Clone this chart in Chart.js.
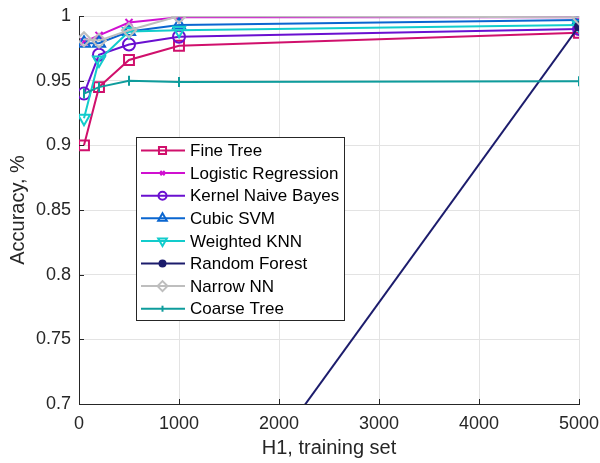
<!DOCTYPE html>
<html>
<head>
<meta charset="utf-8">
<script src="https://cdn.jsdelivr.net/npm/chart.js@4.4.1/dist/chart.umd.min.js"></script>
<style>
  html, body { margin: 0; padding: 0; background: #fff; }
  #wrap { width: 600px; height: 463px; }
</style>
</head>
<body>
<div id="wrap"><canvas id="accChart" width="600" height="463"></canvas></div>
<script>
// training set sizes (x)
const trainSizes = [50, 200, 500, 1000, 5000];

// accuracy per classifier
const fineTree      = [0.900, 0.945, 0.966, 0.977, 0.987];
const logisticReg   = [0.980, 0.985, 0.995, 0.999, 0.999];
const kernelNB      = [0.940, 0.970, 0.978, 0.984, 0.990];
const cubicSVM      = [0.979, 0.979, 0.988, 0.993, 0.997];
const weightedKNN   = [0.921, 0.966, 0.988, 0.989, 0.993];
const randomForest  = [null, null, null, 0.565, 0.992];
const narrowNN      = [0.982, 0.981, 0.989, 1.000, 0.999];
const coarseTree    = [0.940, 0.945, 0.950, 0.949, 0.9495];

const xTicks = [0, 1000, 2000, 3000, 4000, 5000];
const yTicks = [0.7, 0.75, 0.8, 0.85, 0.9, 0.95, 1];

const FONT = '"Liberation Sans", Arial, Helvetica, sans-serif';
const INK = '#262626';

function series(label, values, color, style, radius, opts) {
    return Object.assign({
        label: label,
        data: values.map((v, i) => ({ x: trainSizes[i], y: v })),
        borderColor: color,
        backgroundColor: color,
        borderWidth: 2,
        pointStyle: style,
        pointRadius: radius,
        pointBorderColor: color,
        pointBackgroundColor: 'transparent',
        pointBorderWidth: 2,
        pointRotation: 0,
        tension: 0,
        spanGaps: false
    }, opts || {});
}

const datasets = [
    series('Fine Tree', fineTree, '#d0106c', 'rect', 7),
    series('Logistic Regression', logisticReg, '#d010d0', 'crossRot', 5),
    series('Kernel Naive Bayes', kernelNB, '#6a10d0', 'circle', 6),
    series('Cubic SVM', cubicSVM, '#0a66d0', 'triangle', 7),
    series('Weighted KNN', weightedKNN, '#12cccc', 'triangle', 7, { pointRotation: 180 }),
    series('Random Forest', randomForest, '#1c1c6c', 'circle', 4, { pointBackgroundColor: '#1c1c6c' }),
    series('Narrow NN', narrowNN, '#bebebe', 'rectRot', 7),
    series('Coarse Tree', coarseTree, '#0e9c9c', 'line', 5, { pointRotation: 90 })
];
// later series drawn on top, like MATLAB's plot order
datasets.forEach((ds, i) => { ds.order = datasets.length - i; });

// MATLAB style: inward ticks + boxed legend inside the axes
const matlabBits = {
    id: 'matlabBits',
    afterDraw(chart) {
        const ctx = chart.ctx;
        const xs = chart.scales.x, ys = chart.scales.y;
        const area = chart.chartArea;
        ctx.save();
        ctx.strokeStyle = INK;
        ctx.lineWidth = 1;
        ctx.beginPath();
        xTicks.forEach(t => {
            const px = Math.round(xs.getPixelForValue(t)) + 0.5;
            ctx.moveTo(px, area.bottom);
            ctx.lineTo(px, area.bottom - 5);
        });
        yTicks.forEach(t => {
            const py = Math.round(ys.getPixelForValue(t)) + 0.5;
            ctx.moveTo(area.left, py);
            ctx.lineTo(area.left + 5, py);
        });
        ctx.stroke();

        // legend box
        const bx = 136.5, by = 137.5, bw = 208, bh = 183, rowH = 22.6;
        ctx.fillStyle = '#ffffff';
        ctx.fillRect(bx, by, bw, bh);
        ctx.strokeStyle = INK;
        ctx.strokeRect(bx, by, bw, bh);
        ctx.font = '17px ' + FONT;
        ctx.textBaseline = 'middle';
        chart.data.datasets.forEach((ds, i) => {
            const cy = 150.5 + i * rowH;
            ctx.strokeStyle = ds.borderColor;
            ctx.lineWidth = 2;
            ctx.beginPath();
            ctx.moveTo(141, cy);
            ctx.lineTo(185, cy);
            ctx.stroke();
            ctx.fillStyle = ds.pointBackgroundColor;
            ctx.strokeStyle = ds.borderColor;
            Chart.helpers.drawPoint(ctx, {
                pointStyle: ds.pointStyle,
                rotation: ds.pointRotation,
                radius: Math.max(ds.pointRadius - 2, 3),
                borderWidth: 2
            }, 162.5, cy);
            ctx.fillStyle = '#000000';
            ctx.fillText(ds.label, 190, cy + 1);
        });
        ctx.restore();
    }
};

const ctx1 = document.getElementById('accChart').getContext('2d');
const accChart = new Chart(ctx1, {
    type: 'line',
    data: { datasets: datasets },
    options: {
        responsive: false,
        animation: false,
        layout: { padding: { top: 16, right: 21, left: 0, bottom: 0 } },
        plugins: {
            legend: { display: false },
            tooltip: { enabled: false }
        },
        scales: {
            x: {
                type: 'linear',
                min: 0,
                max: 5000,
                afterFit(s) { s.height = 59; s.paddingLeft = 0; s.paddingRight = 0; },
                afterBuildTicks(s) { s.ticks = xTicks.map(v => ({ value: v })); },
                ticks: {
                    color: INK,
                    padding: 9,
                    maxRotation: 0,
                    font: { family: FONT, size: 18 },
                    callback: v => String(v)
                },
                grid: { color: '#e3e3e3', drawTicks: false },
                border: { color: INK, width: 1 },
                title: {
                    display: true,
                    text: 'H1, training set',
                    color: INK,
                    font: { family: FONT, size: 20 },
                    padding: { top: 0, bottom: 3 }
                }
            },
            y: {
                min: 0.7,
                max: 1,
                afterFit(s) { s.width = 79; s.paddingTop = 0; s.paddingBottom = 0; },
                afterBuildTicks(s) { s.ticks = yTicks.map(v => ({ value: v })); },
                ticks: {
                    color: INK,
                    padding: 8,
                    font: { family: FONT, size: 18 },
                    callback: v => String(+v.toFixed(2))
                },
                grid: { color: '#e3e3e3', drawTicks: false },
                border: { color: INK, width: 1 },
                title: {
                    display: true,
                    text: 'Accuracy, %',
                    color: INK,
                    font: { family: FONT, size: 20 },
                    padding: { top: 6, bottom: 0 }
                }
            }
        }
    },
    plugins: [matlabBits]
});
</script>
</body>
</html>
